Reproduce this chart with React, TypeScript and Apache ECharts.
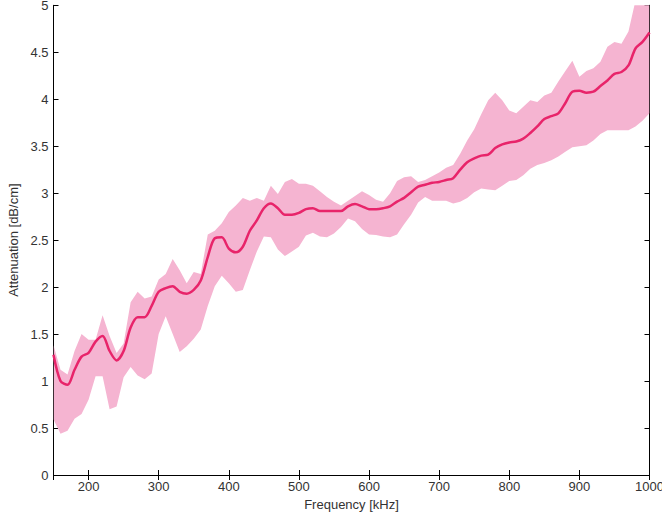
import React, { useEffect, useRef } from "react";
import * as echarts from "echarts";

const frequency: number[] = [
  150, 160, 170, 180, 190, 200, 210, 220, 230, 240,
  250, 260, 270, 280, 290, 300, 310, 320, 330, 340,
  350, 360, 370, 380, 390, 400, 410, 420, 430, 440,
  450, 460, 470, 480, 490, 500, 510, 520, 530, 540,
  550, 560, 570, 580, 590, 600, 610, 620, 630, 640,
  650, 660, 670, 680, 690, 700, 710, 720, 730, 740,
  750, 760, 770, 780, 790, 800, 810, 820, 830, 840,
  850, 860, 870, 880, 890, 900, 910, 920, 930, 940,
  950, 960, 970, 980, 990, 1000,
];

const meanAttenuation: number[] = [
  1.28, 1.0, 0.96, 1.12, 1.26, 1.3, 1.42, 1.48, 1.32, 1.22,
  1.32, 1.57, 1.68, 1.68, 1.8, 1.95, 1.99, 2.01, 1.95, 1.93,
  1.97, 2.07, 2.32, 2.52, 2.53, 2.41, 2.37, 2.43, 2.6, 2.71,
  2.84, 2.89, 2.84, 2.77, 2.77, 2.79, 2.83, 2.84, 2.81, 2.81,
  2.81, 2.81, 2.86, 2.885, 2.86, 2.83, 2.83, 2.84, 2.86, 2.91,
  2.95, 3.01, 3.07, 3.09, 3.11, 3.12, 3.14, 3.16, 3.25, 3.33,
  3.37, 3.4, 3.41, 3.48, 3.52, 3.54, 3.55, 3.58, 3.64, 3.71,
  3.79, 3.82, 3.85, 3.96, 4.08, 4.09, 4.07, 4.08, 4.14, 4.2,
  4.27, 4.29, 4.36, 4.54, 4.61, 4.71,
];

const upperAttenuation: number[] = [
  1.38, 1.12, 1.07, 1.32, 1.5, 1.44, 1.44, 1.7, 1.48, 1.3,
  1.4, 1.84, 1.95, 1.88, 1.9, 2.08, 2.14, 2.3, 2.18, 2.04,
  2.16, 2.14, 2.56, 2.6, 2.68, 2.8, 2.87, 2.95, 2.92, 2.95,
  2.92, 3.08, 2.99, 3.12, 3.15, 3.1, 3.1, 3.08, 3.02, 2.96,
  2.91, 2.87, 2.92, 2.97, 3.02, 2.98, 2.93, 2.91, 3.0, 3.13,
  3.17, 3.18, 3.12, 3.14, 3.18, 3.22, 3.27, 3.3, 3.42, 3.56,
  3.68, 3.84, 3.99, 4.07, 3.99, 3.88, 3.85, 3.92, 3.99, 3.97,
  4.04, 4.07, 4.19, 4.3, 4.41, 4.24, 4.3, 4.33, 4.4, 4.56,
  4.61, 4.59, 4.72, 5.05, 5.2, 5.3,
];

const lowerAttenuation: number[] = [
  0.59, 0.44, 0.47, 0.6, 0.65, 0.8, 1.05, 1.05, 0.7, 0.73,
  1.04, 1.15, 1.06, 1.02, 1.08, 1.5, 1.69, 1.5, 1.31, 1.37,
  1.45, 1.55, 1.8, 2.01, 2.12, 2.04, 1.95, 1.97, 2.18, 2.38,
  2.54, 2.53, 2.4, 2.33, 2.38, 2.43, 2.55, 2.58, 2.54, 2.53,
  2.57, 2.64, 2.73, 2.7, 2.62, 2.56, 2.555, 2.54, 2.53, 2.56,
  2.67, 2.77, 2.9, 2.96, 2.92, 2.92, 2.92, 2.89, 2.91, 2.95,
  3.01, 3.05, 3.04, 3.03, 3.08, 3.13, 3.14, 3.19, 3.26, 3.3,
  3.32, 3.35, 3.39, 3.44, 3.49, 3.5, 3.51, 3.56, 3.63, 3.67,
  3.67, 3.67, 3.67, 3.71, 3.77, 3.85,
];

const FONT = "'Liberation Sans', Arial, Helvetica, sans-serif";

export default function App() {
  const ref = useRef<HTMLDivElement>(null);

  useEffect(() => {
    if (!ref.current) return;
    const chart = echarts.init(ref.current, undefined, { renderer: "svg" });

    const bandData = frequency.map((f, i) => [f, lowerAttenuation[i], upperAttenuation[i]]);
    const meanData = frequency.map((f, i) => [f, meanAttenuation[i]]);

    const axisLine = { show: true, lineStyle: { color: "#000", width: 1 } };
    const axisTick = { show: true, inside: true, length: 5, lineStyle: { color: "#000", width: 1 } };
    const labelColor = "#333";

    chart.setOption({
      animation: false,
      backgroundColor: "#fff",
      grid: {
        left: 53.5,
        right: 12.5,
        top: 5.3,
        bottom: 42,
        containLabel: false,
        outerBoundsMode: "none",
      },
      xAxis: [
        {
          type: "value",
          min: 150,
          max: 1000,
          minInterval: 100,
          maxInterval: 100,
          position: "bottom",
          name: "Frequency [kHz]",
          nameLocation: "middle",
          nameGap: 21,
          nameTextStyle: { color: labelColor, fontSize: 13, fontFamily: FONT },
          axisLine,
          axisTick,
          splitLine: { show: false },
          axisLabel: {
            showMinLabel: false,
            color: labelColor,
            fontSize: 13,
            fontFamily: FONT,
            margin: 5,
            formatter: (v: number) => String(v),
          },
        },
        {
          type: "value",
          min: 150,
          max: 1000,
          minInterval: 100,
          maxInterval: 100,
          position: "top",
          axisLine,
          axisTick,
          axisLabel: { show: false },
          splitLine: { show: false },
        },
      ],
      yAxis: [
        {
          type: "value",
          min: 0,
          max: 5,
          interval: 0.5,
          position: "left",
          name: "Attenuation [dB/cm]",
          nameLocation: "middle",
          nameGap: 30,
          nameTextStyle: { color: labelColor, fontSize: 13, fontFamily: FONT },
          axisLine,
          axisTick,
          splitLine: { show: false },
          axisLabel: {
            color: labelColor,
            fontSize: 13,
            fontFamily: FONT,
            margin: 5,
            formatter: (v: number) => String(v),
          },
        },
        {
          type: "value",
          min: 0,
          max: 5,
          interval: 0.5,
          position: "right",
          axisLine,
          axisTick,
          axisLabel: { show: false },
          splitLine: { show: false },
        },
      ],
      series: [
        {
          type: "custom",
          name: "band",
          data: bandData,
          silent: true,
          z: 1,
          renderItem: (params: any, api: any) => {
            if (params.dataIndex !== 0) return null;
            const top: number[][] = [];
            const bottom: number[][] = [];
            for (let i = 0; i < frequency.length; i++) {
              top.push(api.coord([frequency[i], upperAttenuation[i]]));
              bottom.push(api.coord([frequency[i], lowerAttenuation[i]]));
            }
            const points = top.concat(bottom.reverse());
            const cs = params.coordSys;
            return {
              type: "polygon",
              shape: { points },
              style: { fill: "#f5b4d1", stroke: "none" },
              clipPath: {
                type: "rect",
                shape: { x: cs.x, y: cs.y, width: cs.width, height: cs.height },
              },
            };
          },
        },
        {
          type: "line",
          name: "mean",
          data: meanData,
          symbol: "none",
          smooth: 0.3,
          lineStyle: { color: "#e8246a", width: 2.5 },
          clip: true,
          z: 3,
        },
      ],
    });

    return () => chart.dispose();
  }, []);

  return (
    <div
      ref={ref}
      style={{ position: "fixed", left: 0, top: 0, width: 662, height: 517, background: "#fff" }}
    />
  );
}
